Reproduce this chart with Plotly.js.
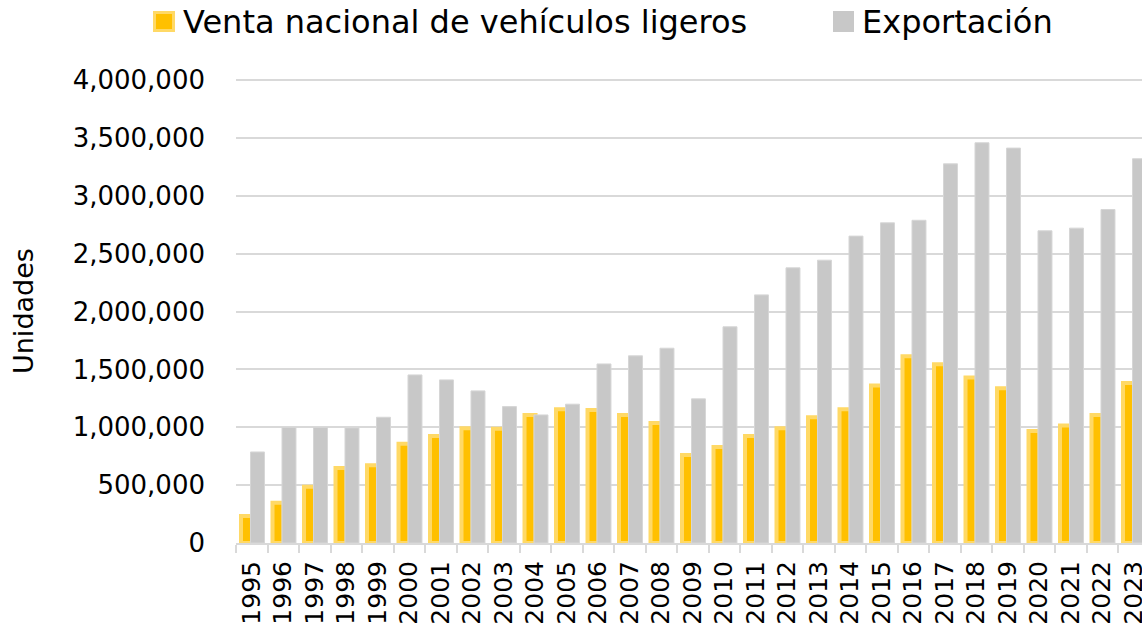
<!DOCTYPE html>
<html>
<head>
<meta charset="utf-8">
<script src="https://cdn.plot.ly/plotly-3.0.1.min.js"></script>
<style>
  html, body { margin: 0; padding: 0; background: #ffffff; overflow: hidden; }
  #chart { width: 1142px; height: 624px; }
</style>
</head>
<body>
<div id="chart"></div>
<script>
// ---- Data ----
const years = ["1995","1996","1997","1998","1999","2000","2001","2002","2003","2004",
               "2005","2006","2007","2008","2009","2010","2011","2012","2013","2014",
               "2015","2016","2017","2018","2019","2020","2021","2022","2023"];

const ventaNacional = [234000, 349000, 487000, 649000, 672000, 859000, 926000, 992000, 988000, 1107000,
                       1157000, 1150000, 1107000, 1038000, 761000, 830000, 926000, 992000, 1087000, 1157000,
                       1361000, 1615000, 1546000, 1430000, 1338000, 969000, 1015000, 1107000, 1384000];

const exportacion = [787000, 998000, 998000, 995000, 1087000, 1453000, 1410000, 1315000, 1179000, 1107000,
                     1200000, 1548000, 1618000, 1684000, 1246000, 1869000, 2145000, 2379000, 2445000, 2653000,
                     2768000, 2790000, 3278000, 3460000, 3414000, 2699000, 2722000, 2883000, 3322000];

const seriesNames = ["Venta nacional de vehículos ligeros", "Exportación"];
const yTitle = "Unidades";

// ---- Layout helpers (pixel -> paper) ----
const W = 1142, H = 624;
const M = { l: 236, r: 0, t: 78, b: 81 };
const PW = W - M.l - M.r, PH = H - M.t - M.b;
const px = x => (x - M.l) / PW;
const py = y => (H - M.b - y) / PH;

const FONT = "DejaVu Sans, sans-serif";
const YELLOW = "#FFC000", YELLOW_LIGHT = "#FFD966", GRAY = "#C8C8C8", GRID = "#D9D9D9";

const traces = [
  {
    type: "bar", name: seriesNames[0], x: years, y: ventaNacional,
    offset: -0.341, width: 0.35,
    marker: { color: YELLOW, line: { color: YELLOW_LIGHT, width: 4 } },
    hoverinfo: "skip"
  },
  {
    type: "bar", name: seriesNames[1], x: years, y: exportacion,
    offset: -0.04, width: 0.444,
    marker: { color: GRAY, line: { color: "#D6D6D6", width: 1 } },
    hoverinfo: "skip"
  }
];

const layout = {
  width: W, height: H,
  margin: M,
  paper_bgcolor: "#ffffff", plot_bgcolor: "#ffffff",
  barmode: "overlay",
  showlegend: false,
  font: { family: FONT, color: "#000000" },
  xaxis: {
    type: "category",
    range: [-0.5, -0.5 + PW / 31.5],
    showgrid: false, zeroline: false,
    showline: true, linecolor: GRID, linewidth: 2,
    ticks: "outside", tickson: "boundaries", ticklen: 8, tickwidth: 2, tickcolor: GRID,
    tickangle: -90,
    tickfont: { family: FONT, size: 25, color: "#000000" },
    ticklabelstandoff: 6,
    fixedrange: true
  },
  yaxis: {
    range: [0, 4020000],
    dtick: 500000, tick0: 0,
    tickformat: ",d",
    showgrid: true, gridcolor: GRID, gridwidth: 2,
    zeroline: false, showline: false,
    ticks: "",
    tickfont: { family: FONT, size: 26, color: "#000000" },
    ticklabelstandoff: 30,
    fixedrange: true
  },
  shapes: [
    { type: "rect", xref: "paper", yref: "paper",
      x0: px(154.5), x1: px(173.5), y0: py(30.5), y1: py(12.5),
      fillcolor: YELLOW, line: { color: YELLOW_LIGHT, width: 3 } },
    { type: "rect", xref: "paper", yref: "paper",
      x0: px(833), x1: px(854), y0: py(32), y1: py(11),
      fillcolor: GRAY, line: { width: 0 } }
  ],
  annotations: [
    { xref: "paper", yref: "paper", x: px(181), y: py(22), xanchor: "left", yanchor: "middle",
      text: seriesNames[0], showarrow: false, font: { family: FONT, size: 32, color: "#000000" } },
    { xref: "paper", yref: "paper", x: px(860), y: py(22), xanchor: "left", yanchor: "middle",
      text: seriesNames[1], showarrow: false, font: { family: FONT, size: 32, color: "#000000" } },
    { xref: "paper", yref: "paper", x: px(23), y: py(311), xanchor: "center", yanchor: "middle",
      textangle: -90, text: yTitle, showarrow: false, font: { family: FONT, size: 27, color: "#000000" } }
  ]
};

Plotly.newPlot("chart", traces, layout, { staticPlot: true, displayModeBar: false });
</script>
</body>
</html>
